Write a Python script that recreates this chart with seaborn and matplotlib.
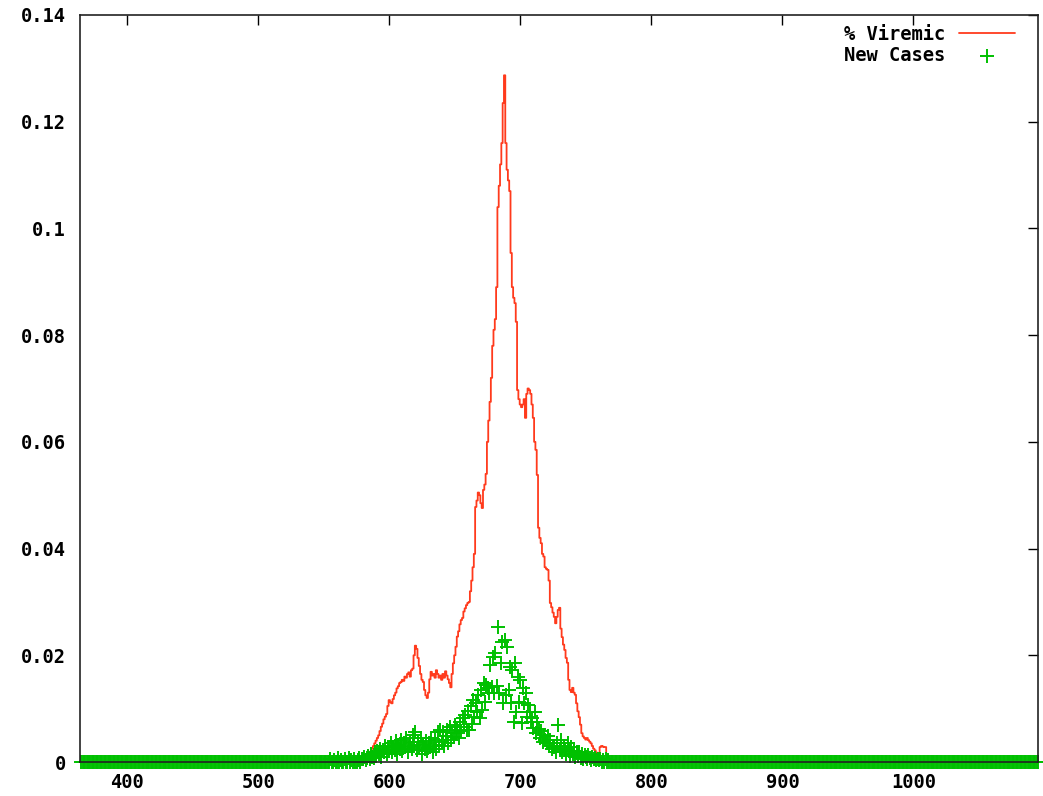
import numpy as np
import pandas as pd
import seaborn as sns
import matplotlib
matplotlib.use('Agg')
import matplotlib.pyplot as plt
from matplotlib.ticker import FuncFormatter

##################################################################################
# Data
##################################################################################
first_day = 365
last_day = 1095

# % Viremic: non-zero stretch, one value per day starting at viremic_start
viremic_start = 580
viremic_vals = [
    0.0, 0.0005, 0.001, 0.0012, 0.0015, 0.0017, 0.002, 0.0025, 0.003, 0.0035,
    0.004, 0.0045, 0.005, 0.0058, 0.0066, 0.0072, 0.008, 0.0085, 0.009, 0.0105,
    0.0116, 0.0112, 0.011, 0.0118, 0.0125, 0.013, 0.0138, 0.0142, 0.0148, 0.015,
    0.0154, 0.0152, 0.016, 0.0158, 0.0165, 0.0168, 0.016, 0.0172, 0.0175, 0.020,
    0.0218, 0.0212, 0.0195, 0.018, 0.0165, 0.0154, 0.015, 0.0135, 0.0125, 0.012,
    0.013, 0.0155, 0.0169, 0.0162, 0.0165, 0.0158, 0.0172, 0.0165, 0.0158, 0.0162,
    0.0154, 0.0165, 0.0158, 0.017, 0.0162, 0.0155, 0.0148, 0.014, 0.0165, 0.0185,
    0.020, 0.0216, 0.0235, 0.0245, 0.0258, 0.0266, 0.027, 0.0282, 0.0288, 0.0294,
    0.0298, 0.030, 0.032, 0.034, 0.0365, 0.039, 0.0478, 0.049, 0.0505, 0.050,
    0.0485, 0.0476, 0.051, 0.052, 0.054, 0.060, 0.064, 0.0675, 0.072, 0.078,
    0.081, 0.083, 0.089, 0.104, 0.108, 0.112, 0.116, 0.1235, 0.1287, 0.116,
    0.111, 0.109, 0.107, 0.0954, 0.089, 0.087, 0.086, 0.0825, 0.0697, 0.068,
    0.067, 0.0665, 0.067, 0.068, 0.0645, 0.069, 0.070, 0.0697, 0.069, 0.067,
    0.0645, 0.060, 0.0585, 0.0538, 0.0439, 0.042, 0.041, 0.039, 0.0385, 0.0365,
    0.0362, 0.036, 0.034, 0.0298, 0.029, 0.028, 0.0272, 0.026, 0.0272, 0.0285,
    0.0289, 0.025, 0.0234, 0.022, 0.021, 0.0195, 0.0186, 0.0154, 0.0135, 0.0131,
    0.0139, 0.013, 0.0126, 0.011, 0.0095, 0.0084, 0.007, 0.0054, 0.0048, 0.0045,
    0.0042, 0.0045, 0.0041, 0.0038, 0.0035, 0.003, 0.0025, 0.0022, 0.0018, 0.0013,
    0.0013, 0.0028, 0.003, 0.0029, 0.0028, 0.0028, 0.0013, 0.0008, 0.0005, 0.0005,
    0.0003, 0.0,
]

# New cases: non-zero stretch, one value per day starting at cases_start
cases_start = 555
cases_vals = [
    0.0005, 0.0, 0.0, 0.0003, 0.0, 0.0, 0.0008, 0.0, 0.0003, 0.0,
    0.0, 0.0005, 0.0, 0.0, 0.0008, 0.0, 0.0003, 0.0, 0.0005, 0.0,
    0.0, 0.0003, 0.0008, 0.0, 0.0005,
    0.0005, 0.001, 0.0003, 0.0008, 0.0012, 0.0005, 0.0015, 0.001, 0.0008, 0.0018,
    0.0012, 0.002, 0.0015, 0.0025, 0.001, 0.0022, 0.0018, 0.003, 0.0015, 0.0028,
    0.002, 0.0035, 0.0018, 0.0028, 0.0022, 0.004, 0.0015, 0.0032, 0.0025, 0.0041,
    0.002, 0.0035, 0.0028, 0.0045, 0.0018, 0.003, 0.0038, 0.0025, 0.005, 0.0032,
    0.0056, 0.0022, 0.0038, 0.0028, 0.0045, 0.0015, 0.0032, 0.0025, 0.004, 0.002,
    0.0035, 0.0028, 0.0045, 0.0018, 0.003, 0.0042, 0.0025, 0.0056, 0.0032, 0.006,
    0.0037, 0.0056, 0.003, 0.0048, 0.006, 0.0035, 0.0066, 0.0042, 0.0055, 0.0047,
    0.0069, 0.0054, 0.006, 0.0045, 0.0075, 0.0058, 0.0082, 0.0065, 0.0088, 0.006,
    0.0095, 0.006, 0.0105, 0.0072, 0.0116, 0.0085, 0.011, 0.0094, 0.0125, 0.0082,
    0.0135, 0.0097, 0.0148, 0.0112, 0.0145, 0.0138, 0.013, 0.0182, 0.014, 0.0197,
    0.013, 0.0204, 0.0142, 0.0253, 0.013, 0.0186, 0.0225, 0.011, 0.0229, 0.0126,
    0.0216, 0.0135, 0.0178, 0.011, 0.0172, 0.0075, 0.0186, 0.0094, 0.016, 0.0112,
    0.0154, 0.0073, 0.0139, 0.011, 0.0129, 0.0085, 0.0107, 0.0094, 0.0075, 0.0082,
    0.0064, 0.0094, 0.0054, 0.0075, 0.0062, 0.0045, 0.0058, 0.0037, 0.005, 0.0042,
    0.0035, 0.0048, 0.003, 0.0041, 0.0025, 0.003, 0.0028, 0.0019, 0.0035, 0.0069,
    0.0022, 0.0041, 0.0018, 0.003, 0.0025, 0.0015, 0.0035, 0.002, 0.0012, 0.0028,
    0.0015, 0.002, 0.001, 0.0019, 0.0012, 0.0019, 0.0008, 0.0015, 0.0005, 0.0013,
    0.001, 0.0005, 0.0013, 0.0008, 0.0003, 0.001, 0.0005, 0.0008, 0.0003, 0.0005,
    0.0003, 0.0005, 0.0, 0.0003, 0.0, 0.0005, 0.0, 0.0003,
]

x_ticks = [400, 500, 600, 700, 800, 900, 1000]
y_ticks = [0, 0.02, 0.04, 0.06, 0.08, 0.1, 0.12, 0.14]

# pad both series with zeros over the full day range
days = np.arange(first_day, last_day + 1)

def pad(start, vals):
    out = np.zeros(len(days))
    i0 = start - first_day
    out[i0:i0 + len(vals)] = vals
    return out

df = pd.DataFrame({'day': days,
                   'viremic': pad(viremic_start, viremic_vals),
                   'cases': pad(cases_start, cases_vals)})

##################################################################################
# Plot
##################################################################################
sns.set_style('white')
plt.rcParams['font.family'] = ['DejaVu Sans Mono', 'DejaVu Sans']

fig = plt.figure(figsize=(10.43, 7.96), dpi=100)
ax = fig.add_axes([80 / 1043, 34 / 796, 958 / 1043, 747 / 796])

sns.lineplot(data=df, x='day', y='viremic', ax=ax, color='#ff3a1c',
             linewidth=1.3, label='% Viremic', zorder=2,
             drawstyle='steps-mid')
sns.scatterplot(data=df, x='day', y='cases', ax=ax, color='#00c000',
                marker='+', s=110, linewidth=1.4, label='New Cases',
                zorder=3, clip_on=False)

ax.set_xlim(first_day - 1, last_day)
ax.set_ylim(0, 0.14)
ax.set_xticks(x_ticks)
ax.set_yticks(y_ticks)
ax.yaxis.set_major_formatter(FuncFormatter(lambda v, p: '%g' % v))
ax.set_xlabel('')
ax.set_ylabel('')

ax.tick_params(direction='in', length=7, width=1, top=True, right=True,
               labelsize=13.5, colors='black')
ax.tick_params(axis='y', pad=10)
ax.tick_params(axis='x', pad=8)
for lab in ax.get_xticklabels() + ax.get_yticklabels():
    lab.set_fontweight('bold')

for sp in ax.spines.values():
    sp.set_visible(True)
    sp.set_color('#222222')
    sp.set_linewidth(1.2)
    sp.set_zorder(5)

# key in the top right corner, text first then sample
leg = ax.legend(loc='upper right', bbox_to_anchor=(0.984, 0.997),
                frameon=False, markerfirst=False, borderaxespad=0,
                handlelength=3.0, handletextpad=0.75, labelspacing=0.1,
                labelcolor='black', prop={'weight': 'bold', 'size': 13.5})

plt.savefig('out.png', dpi=100)
